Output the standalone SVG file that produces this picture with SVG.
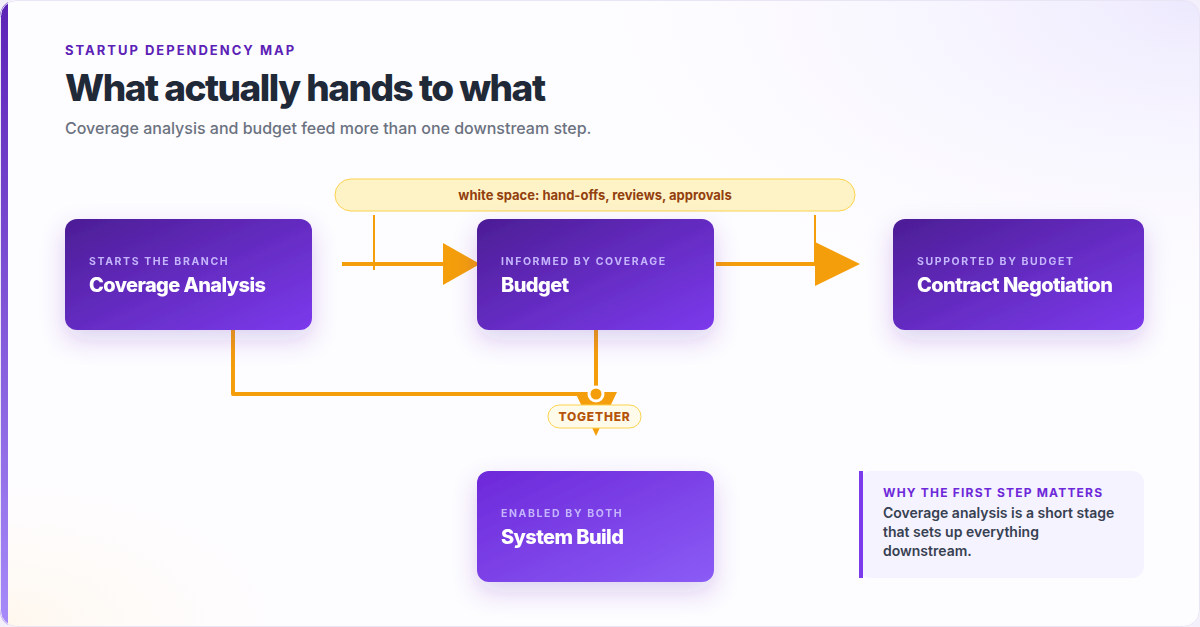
<svg xmlns="http://www.w3.org/2000/svg" width="1200" height="627" viewBox="0 0 1200 627">
<defs>
<linearGradient id="ng" x1="0" y1="0" x2="1" y2="1"><stop offset="0" stop-color="#4c1d95"/><stop offset="1" stop-color="#7c3aed"/></linearGradient>
<linearGradient id="ng2" x1="0" y1="0" x2="1" y2="1"><stop offset="0" stop-color="#6d28d9"/><stop offset="1" stop-color="#8b5cf6"/></linearGradient>
<linearGradient id="side" x1="0" y1="0" x2="0" y2="1"><stop offset="0" stop-color="#5b21b6"/><stop offset="1" stop-color="#a78bfa"/></linearGradient>
<radialGradient id="glow" cx="1" cy="0" r="0.6"><stop offset="0" stop-color="#ede9fe"/><stop offset="1" stop-color="#ffffff" stop-opacity="0"/></radialGradient>
<radialGradient id="glow2" cx="0" cy="1" r="0.3"><stop offset="0" stop-color="#fff7ed"/><stop offset="1" stop-color="#ffffff" stop-opacity="0"/></radialGradient>
<filter id="sh" x="-20%" y="-20%" width="140%" height="160%"><feDropShadow dx="0" dy="10" stdDeviation="12" flood-color="#5b21b6" flood-opacity="0.2"/></filter>
<clipPath id="cc"><rect x="0" y="0" width="1200" height="627" rx="16"/></clipPath>
</defs>
<style>
.k{font-family:Inter,"Liberation Sans",sans-serif;font-weight:700;font-size:10.5px;letter-spacing:1.6px;fill:#c4b5fd}
.t{font-family:Inter,"Liberation Sans",sans-serif;font-weight:800;font-size:20px;letter-spacing:-0.6px;fill:#fff}
.c{fill:none;stroke:#f59e0b;stroke-width:4;stroke-linejoin:round}
.ah{fill:#f59e0b}
</style>
<rect width="1200" height="627" fill="#f3f0fb"/>
<g clip-path="url(#cc)">
<rect width="1200" height="627" fill="#fdfcff"/>
<rect width="1200" height="627" fill="url(#glow)"/>
<rect width="1200" height="627" fill="url(#glow2)"/>
<rect x="0" y="0" width="8" height="627" fill="url(#side)"/>
</g>
<rect x="0.5" y="0.5" width="1199" height="626" rx="16" fill="none" stroke="#e9e5f5"/>
<text x="65" y="55" font-family="Inter,'Liberation Sans',sans-serif" font-weight="700" font-size="13" letter-spacing="2" fill="#5b21b6">STARTUP DEPENDENCY MAP</text>
<text x="65" y="101" font-family="Inter,'Liberation Sans',sans-serif" font-weight="800" font-size="37" letter-spacing="-1.5" fill="#1f2937">What actually hands to what</text>
<text x="65" y="134" font-family="Inter,'Liberation Sans',sans-serif" font-weight="500" font-size="16" fill="#6b7280">Coverage analysis and budget feed more than one downstream step.</text>
<g id="whitespace">
<rect x="335" y="179" width="520" height="32" rx="16" fill="#fef3c7" stroke="#fcd34d"/>
<text x="595" y="200" text-anchor="middle" font-family="Inter,'Liberation Sans',sans-serif" font-weight="700" font-size="13" fill="#92400e">white space: hand-offs, reviews, approvals</text>
<line x1="374" y1="215" x2="374" y2="270" stroke="#f59e0b" stroke-width="2"/>
<line x1="815" y1="215" x2="815" y2="266" stroke="#f59e0b" stroke-width="2"/>
</g>
<g id="connectors">
<line class="c" x1="342" y1="264" x2="446" y2="264"/>
<polygon class="ah" points="443,243 480,264 443,285"/>
<line class="c" x1="716" y1="264" x2="818" y2="264"/>
<polygon class="ah" points="815,242 860,264 815,286"/>
<path class="c" d="M233,330 V394 H596"/>
<path class="c" d="M596,330 V390"/>
<polygon class="ah" points="575,392 617,392 596,436"/>
<circle cx="596" cy="394" r="7" fill="#f59e0b" stroke="#fff" stroke-width="3"/>
<rect x="548" y="405" width="93" height="23" rx="11.5" fill="#fffbeb" stroke="#fcd34d"/>
<text x="594.5" y="421" text-anchor="middle" font-family="Inter,'Liberation Sans',sans-serif" font-weight="800" font-size="12" letter-spacing="0.8" fill="#b45309">TOGETHER</text>
</g>
<g id="coverage" filter="url(#sh)">
<rect x="65" y="219" width="247" height="111" rx="12" fill="url(#ng)"/>
<text class="k" x="89" y="265">STARTS THE BRANCH</text>
<text class="t" x="89" y="292">Coverage Analysis</text>
</g>
<g id="budget" filter="url(#sh)">
<rect x="477" y="219" width="237" height="111" rx="12" fill="url(#ng)"/>
<text class="k" x="501" y="265">INFORMED BY COVERAGE</text>
<text class="t" x="501" y="292">Budget</text>
</g>
<g id="contract" filter="url(#sh)">
<rect x="893" y="219" width="251" height="111" rx="12" fill="url(#ng)"/>
<text class="k" x="917" y="265">SUPPORTED BY BUDGET</text>
<text class="t" x="917" y="292">Contract Negotiation</text>
</g>
<g id="system" filter="url(#sh)">
<rect x="477" y="471" width="237" height="111" rx="12" fill="url(#ng2)"/>
<text class="k" x="501" y="517">ENABLED BY BOTH</text>
<text class="t" x="501" y="544">System Build</text>
</g>
<g id="callout">
<rect x="859" y="471" width="285" height="107" rx="12" fill="#f5f3ff"/>
<rect x="859" y="471" width="4" height="107" fill="#7c3aed"/>
<text x="883" y="497" font-family="Inter,'Liberation Sans',sans-serif" font-weight="700" font-size="12" letter-spacing="1.2" fill="#6d28d9">WHY THE FIRST STEP MATTERS</text>
<text font-family="Inter,'Liberation Sans',sans-serif" font-weight="600" font-size="14" fill="#374151"><tspan x="883" y="518">Coverage analysis is a short stage</tspan><tspan x="883" y="537">that sets up everything</tspan><tspan x="883" y="556">downstream.</tspan></text>
</g>
</svg>
